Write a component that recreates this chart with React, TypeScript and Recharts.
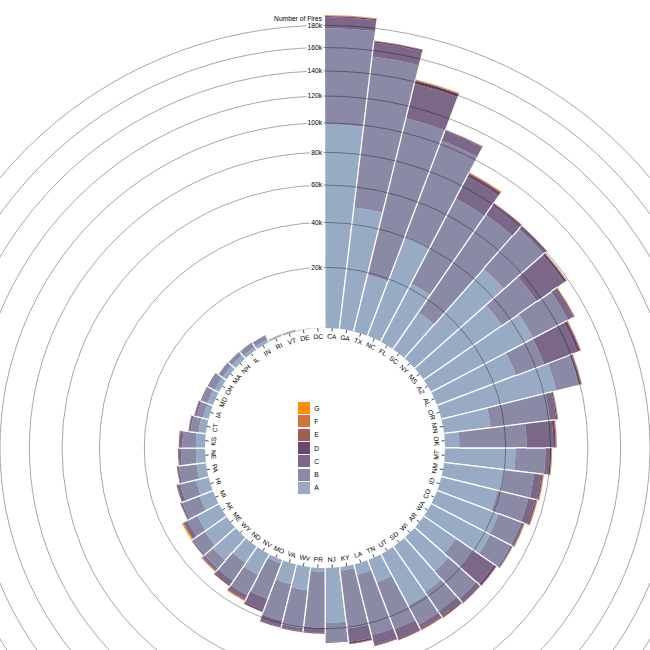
import React from 'react';
import { RadialBarChart, RadialBar, PolarAngleAxis, PolarRadiusAxis, Sector } from 'recharts';

const states = ['CA','GA','TX','NC','FL','SC','NY','MS','AZ','AL','OR','MN','OK','MT','NM','ID','CO','WA','AR','WI','SD','UT','TN','LA','KY','NJ','PR','WV','VA','MO','NV','ND','WY','ME','AK','MI','HI','PA','NE','KS','CT','IA','MD','OH','MA','NH','IL','IN','RI','VT','DE','DC'];

const classKeys = ['A', 'B', 'C', 'D', 'E', 'F', 'G'];
const classColors = ['#98abc5', '#8a89a6', '#7b6888', '#6b486b', '#a05d56', '#d0743c', '#ff8c00'];

const classA = [99000,48500,19000,40000,22000,14000,47000,35000,45000,30000,46600,14800,4000,24000,20000,18800,22000,22400,12000,14000,18000,19000,7000,3000,1000,17700,1000,6800,5800,1000,6800,5600,9000,7800,7200,4000,3600,2600,2500,2500,2000,1500,1600,1200,1200,1200,900,800,350,300,100,60];
const classB = [78400,106100,91500,62700,49200,58000,31000,22000,22000,14600,12500,25800,24800,13500,12900,13500,10500,10000,8000,15000,9500,9000,18500,22000,19500,7800,18700,13500,13100,11800,7800,7300,3800,4800,3600,5800,5000,5400,4500,4000,2300,1900,1700,2000,1300,1100,1200,1100,130,160,70,6];
const classC = [10200,12500,27900,7500,16000,8200,2400,20000,3400,19500,1400,3200,12600,2300,3500,3200,1200,800,10500,2300,2800,2000,4500,4300,5600,350,2000,1300,2400,4500,1500,1600,800,450,1000,600,1000,550,700,900,500,600,300,300,100,150,200,200,0,0,0,0];
const classD = [1200,1300,2500,700,2200,800,300,1600,700,1800,350,600,1200,500,600,700,300,200,1200,200,600,500,500,500,800,50,300,300,400,600,400,500,250,100,400,100,250,100,200,200,150,100,20,0,0,0,0,0,0,0,0,0];
const classE = [400,300,600,200,500,200,100,400,300,450,120,200,400,250,300,300,100,60,150,50,200,200,150,150,150,0,70,70,70,70,250,150,150,0,250,0,50,40,50,50,20,0,0,0,0,0,0,0,0,0,0,0];
const classF = [200,100,300,100,250,70,50,150,120,150,80,120,150,150,150,150,50,30,30,30,70,100,50,50,50,0,30,30,30,30,150,50,120,0,200,0,30,20,20,30,6,0,0,0,0,0,0,0,0,0,0,0];
const classG = [300,50,300,50,250,30,20,50,150,50,120,80,50,100,100,150,120,10,20,20,30,100,0,0,0,0,0,0,0,0,150,0,150,0,300,0,0,0,0,20,0,0,0,0,0,0,0,0,0,0,0,0];

const radialTicks = [20000, 40000, 60000, 80000, 100000, 120000, 140000, 160000, 180000];
const axisTitle = 'Number of Fires';

const classSeries = [classA, classB, classC, classD, classE, classF, classG];
const data = states.map((s, i) => {
  const row: Record<string, string | number> = { state: s };
  classKeys.forEach((k, j) => { row[k] = classSeries[j][i]; });
  return row;
});
const totals = states.map((_, i) => classSeries.reduce((acc, arr) => acc + arr[i], 0));
const maxTotal = Math.max(...totals);

const CX = 325;
const CY = 448;
const INNER = 120;
const OUTER = 433;
const FONT = '"Liberation Sans", Arial, Helvetica, sans-serif';
const FS = 6.7;
const BAND = 360 / states.length;

const toXY = (cx: number, cy: number, r: number, deg: number) => {
  const rad = (-deg * Math.PI) / 180;
  return [cx + r * Math.cos(rad), cy + r * Math.sin(rad)];
};

const SegmentShape = (props: any) => {
  const { cx, cy, innerRadius, outerRadius, startAngle, endAngle, fill } = props;
  if (!(outerRadius - innerRadius > 0)) return null;
  const [x1, y1] = toXY(cx, cy, innerRadius, startAngle);
  const [x2, y2] = toXY(cx, cy, outerRadius, startAngle);
  const [x3, y3] = toXY(cx, cy, innerRadius, endAngle);
  const [x4, y4] = toXY(cx, cy, outerRadius, endAngle);
  return (
    <g>
      <Sector cx={cx} cy={cy} innerRadius={innerRadius} outerRadius={outerRadius} startAngle={startAngle} endAngle={endAngle} fill={fill} stroke="none" />
      <line x1={x1} y1={y1} x2={x2} y2={y2} stroke="#fff" strokeWidth={1.3} />
      <line x1={x3} y1={y3} x2={x4} y2={y4} stroke="#fff" strokeWidth={1.3} />
    </g>
  );
};

const StateTick = (props: any) => {
  const { payload } = props;
  const idx = states.indexOf(payload.value);
  const cw = (idx + 0.5) * BAND; // clockwise from top
  const deg = 90 - cw;
  const top = (cw + 90) % 360 < 180;
  const [lx1, ly1] = toXY(CX, CY, INNER, deg);
  const [lx2, ly2] = toXY(CX, CY, INNER - 3.3, deg);
  const rt = top ? INNER - 10.7 : INNER - 6;
  const [tx, ty] = toXY(CX, CY, rt, deg);
  const rot = top ? cw : cw - 180;
  return (
    <g>
      <line x1={lx1} y1={ly1} x2={lx2} y2={ly2} stroke="#000" strokeWidth={0.7} />
      <text x={tx} y={ty} transform={`rotate(${rot}, ${tx}, ${ty})`} textAnchor="middle" fontSize={FS} fontFamily={FONT} fill="#000">
        {payload.value}
      </text>
    </g>
  );
};

const ValueTick = (props: any) => {
  const { x, y, payload } = props;
  const r = payload.coordinate;
  const isLast = payload.value === radialTicks[radialTicks.length - 1];
  const label = `${Math.round(payload.value / 1000)}k`;
  return (
    <g>
      <circle cx={CX} cy={CY} r={r} fill="none" stroke="#000" strokeOpacity={0.5} strokeWidth={0.7} />
      <text x={x - 3} y={y} dy="0.35em" textAnchor="end" fontSize={FS} fontFamily={FONT} fill="#000" stroke="#fff" strokeWidth={3.3} strokeLinejoin="round" paintOrder="stroke">
        {label}
      </text>
      {isLast && (
        <text x={x - 3} y={y} dy="-0.65em" textAnchor="end" fontSize={FS} fontFamily={FONT} fill="#000" stroke="#fff" strokeWidth={3.3} strokeLinejoin="round" paintOrder="stroke">
          {axisTitle}
        </text>
      )}
    </g>
  );
};

export default function App() {
  const legendKeys = [...classKeys].reverse();
  return (
    <div style={{ position: 'absolute', left: 0, top: 0, width: 650, height: 650, background: '#fff' }}>
      <RadialBarChart
        width={650}
        height={650}
        data={data}
        cx={CX}
        cy={CY}
        innerRadius={INNER}
        outerRadius={OUTER}
        startAngle={90 - BAND}
        endAngle={-270 - BAND}
        layout="centric"
        barCategoryGap={0}
        barGap={0}
        margin={{ top: 0, right: 0, bottom: 0, left: 0 }}
      >
        <PolarAngleAxis type="category" dataKey="state" axisLine={false} tickLine={false} tick={StateTick} />
        {classKeys.map((k, j) => (
          <RadialBar key={k} dataKey={k} stackId="fires" fill={classColors[j]} shape={SegmentShape} isAnimationActive={false} />
        ))}
        <PolarRadiusAxis type="number" scale="radial" domain={[0, maxTotal]} allowDataOverflow angle={90} ticks={radialTicks} axisLine={false} tickLine={false} tick={ValueTick} />
      </RadialBarChart>
      {legendKeys.map((k, i) => {
        const j = classKeys.indexOf(k);
        return (
          <div key={k} style={{ position: 'absolute', left: CX - 26.7, top: CY - 6 + (i - 3) * 13.33, height: 12, display: 'flex', alignItems: 'center' }}>
            <div style={{ width: 12, height: 12, background: classColors[j] }} />
            <span style={{ marginLeft: 4, fontSize: FS, fontFamily: FONT, color: '#000' }}>{k}</span>
          </div>
        );
      })}
    </div>
  );
}
